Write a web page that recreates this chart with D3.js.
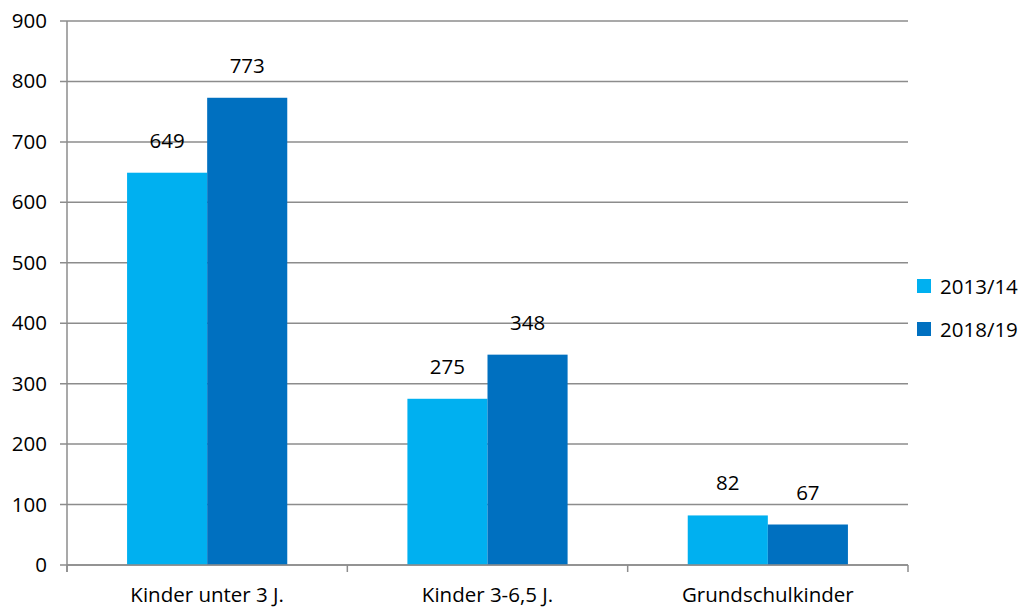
<!DOCTYPE html>
<head>
<meta charset="utf-8" />
<script src="https://cdn.jsdelivr.net/npm/d3@7"></script>
<style>
body { margin: 0; background: #fff; }
text { font-family: "Open Sans", "Noto Sans", sans-serif; font-size: 20.5px; fill: #000; }
</style>
</head>
<body>
<svg width="1022" height="609"></svg>
<script>
var categories = ["Kinder unter 3 J.", "Kinder 3-6,5 J.", "Grundschulkinder"];
var seriesNames = ["2013/14", "2018/19"];
var values2013 = [649, 275, 82];
var values2018 = [773, 348, 67];
var yTicks = [0, 100, 200, 300, 400, 500, 600, 700, 800, 900];
var colors = ["#00B0F0", "#0070C0"];

var series = [values2013, values2018];
var svg = d3.select("svg");
var plotLeft = 67, plotRight = 908, plotTop = 21, plotBottom = 565;

var x0 = d3.scaleBand().domain(categories).range([plotLeft, plotRight]).padding(0);
var x1 = d3.scaleBand().domain(seriesNames).range([0, x0.bandwidth()]).paddingInner(0).paddingOuter(0.75);
var y = d3.scaleLinear().domain([0, 900]).range([plotBottom, plotTop]);

// grid
svg.append("g").selectAll("line").data(yTicks).enter().append("line")
  .attr("x1", plotLeft - 7).attr("x2", plotRight)
  .attr("y1", function(d) { return y(d); }).attr("y2", function(d) { return y(d); })
  .attr("stroke", "#8c8c8c").attr("stroke-width", 1.5);

svg.append("g").selectAll("text").data(yTicks).enter().append("text")
  .attr("x", 47).attr("y", function(d) { return y(d) + 7; })
  .attr("text-anchor", "end").text(function(d) { return d; });

// bars
seriesNames.forEach(function(s, i) {
  var g = svg.append("g");
  g.selectAll("rect").data(series[i]).enter().append("rect")
    .attr("x", function(d, j) { return x0(categories[j]) + x1(s); })
    .attr("width", x1.bandwidth())
    .attr("y", function(d) { return y(d); })
    .attr("height", function(d) { return y(0) - y(d); })
    .attr("fill", colors[i]);
  g.selectAll("text").data(series[i]).enter().append("text")
    .attr("x", function(d, j) { return x0(categories[j]) + x1(s) + x1.bandwidth() / 2; })
    .attr("y", function(d) { return y(d) - 25; })
    .attr("text-anchor", "middle").text(function(d) { return d; });
});

// axes lines
svg.append("line").attr("x1", plotLeft).attr("x2", plotLeft).attr("y1", plotTop).attr("y2", plotBottom + 7)
  .attr("stroke", "#8c8c8c").attr("stroke-width", 1.5);
svg.append("line").attr("x1", plotLeft).attr("x2", plotRight).attr("y1", plotBottom).attr("y2", plotBottom)
  .attr("stroke", "#8c8c8c").attr("stroke-width", 1.5);
var catTicks = categories.map(function(c) { return x0(c); }).concat([plotRight]);
svg.append("g").selectAll("line").data(catTicks).enter().append("line")
  .attr("x1", function(d) { return d; }).attr("x2", function(d) { return d; })
  .attr("y1", plotBottom).attr("y2", plotBottom + 7)
  .attr("stroke", "#8c8c8c").attr("stroke-width", 1.5);

svg.append("g").selectAll("text").data(categories).enter().append("text")
  .attr("x", function(d) { return x0(d) + x0.bandwidth() / 2; })
  .attr("y", 602).attr("text-anchor", "middle").text(function(d) { return d; });

// legend
var leg = svg.append("g").selectAll("g").data(seriesNames).enter().append("g")
  .attr("transform", function(d, i) { return "translate(917," + (279 + i * 43) + ")"; });
leg.append("rect").attr("width", 14).attr("height", 14).attr("fill", function(d, i) { return colors[i]; });
leg.append("text").attr("x", 23).attr("y", 15).text(function(d) { return d; });
</script>
</body>
